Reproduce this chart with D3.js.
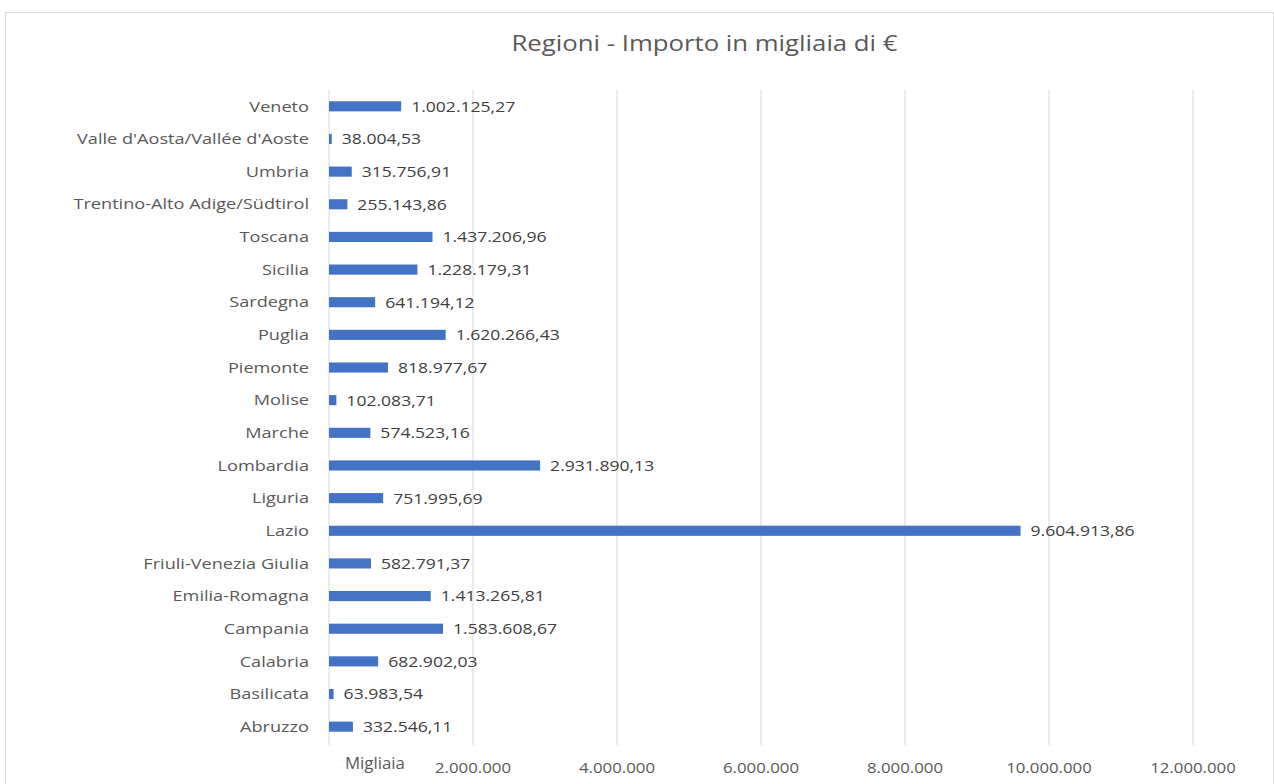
<!DOCTYPE html>
<html><head><meta charset="utf-8">
<script src="https://cdn.jsdelivr.net/npm/d3@7"></script>
<style>body{margin:0;background:#fff}svg{display:block}</style>
</head><body>
<svg id="c" width="1274" height="784"></svg>
<script>
const categories = ["Abruzzo","Basilicata","Calabria","Campania","Emilia-Romagna","Friuli-Venezia Giulia","Lazio","Liguria","Lombardia","Marche","Molise","Piemonte","Puglia","Sardegna","Sicilia","Toscana","Trentino-Alto Adige/Südtirol","Umbria","Valle d'Aosta/Vallée d'Aoste","Veneto"];
const values = [332546.11,63983.54,682902.03,1583608.67,1413265.81,582791.37,9604913.86,751995.69,2931890.13,574523.16,102083.71,818977.67,1620266.43,641194.12,1228179.31,1437206.96,255143.86,315756.91,38004.53,1002125.27];
const valueLabels = ["332.546,11","63.983,54","682.902,03","1.583.608,67","1.413.265,81","582.791,37","9.604.913,86","751.995,69","2.931.890,13","574.523,16","102.083,71","818.977,67","1.620.266,43","641.194,12","1.228.179,31","1.437.206,96","255.143,86","315.756,91","38.004,53","1.002.125,27"];
const tickValues = [2000000,4000000,6000000,8000000,10000000,12000000];
const tickLabels = ["2.000.000","4.000.000","6.000.000","8.000.000","10.000.000","12.000.000"];
const title = "Regioni - Importo in migliaia di €";
const unitLabel = "Migliaia";

const svg = d3.select("#c");
const font = "'Open Sans', 'Noto Sans', sans-serif";
function stretch(sel, f){
  sel.each(function(){ const w=this.getComputedTextLength(); d3.select(this).attr("textLength", w*f).attr("lengthAdjust","spacingAndGlyphs"); });
}
// chart frame
svg.append("rect").attr("x",5.5).attr("y",12.5).attr("width",1268).attr("height",780)
  .attr("fill","#fff").attr("stroke","#d9d9d9");

const x = d3.scaleLinear().domain([0,12000000]).range([329,1193]);
const y = d3.scaleBand().domain(categories.slice().reverse()).range([90,743]).paddingInner(0.69).paddingOuter(0.345);

// gridlines
svg.append("g").selectAll("line").data(tickValues).join("line")
  .attr("x1",d=>x(d)).attr("x2",d=>x(d)).attr("y1",90).attr("y2",745)
  .attr("stroke","#d9d9d9").attr("stroke-width",1);
// axis line
svg.append("line").attr("x1",x(0)).attr("x2",x(0)).attr("y1",90).attr("y2",745)
  .attr("stroke","#d9d9d9");

// bars
svg.append("g").selectAll("rect").data(categories).join("rect")
  .attr("x",x(0)).attr("y",d=>y(d)).attr("width",(d,i)=>Math.max(1,x(values[i])-x(0)))
  .attr("height",y.bandwidth()).attr("fill","#4472C4");

// value labels
const vl = svg.append("g").selectAll("text").data(categories).join("text")
  .attr("x",(d,i)=>x(values[i])+10).attr("y",d=>y(d)+y.bandwidth()/2)
  .attr("dy","0.36em").attr("font-family",font).attr("font-size",15).attr("fill","#404040")
  .text((d,i)=>valueLabels[i]);
stretch(vl, 1.17);

// category labels
const cl = svg.append("g").selectAll("text").data(categories).join("text")
  .attr("x",309).attr("y",d=>y(d)+y.bandwidth()/2).attr("dy","0.36em")
  .attr("text-anchor","end").attr("font-family",font).attr("font-size",14.5).attr("fill","#595959")
  .text(d=>d);
stretch(cl, 1.25);

// x tick labels
const tl = svg.append("g").selectAll("text").data(tickValues).join("text")
  .attr("x",d=>x(d)).attr("y",773).attr("text-anchor","middle")
  .attr("font-family",font).attr("font-size",14)
  .attr("fill","#595959")
  .text((d,i)=>tickLabels[i]);
stretch(tl, 1.2);

const ul = svg.append("text").attr("x",345).attr("y",769).attr("font-family",font).attr("font-size",16)
  .attr("fill","#595959").text(unitLabel);
stretch(ul, 1.05);

const tt = svg.append("text").attr("x",704.5).attr("y",51).attr("text-anchor","middle")
  .attr("font-family",font).attr("font-size",22).attr("fill","#595959").text(title);
stretch(tt, 1.17);
</script>
</body></html>
